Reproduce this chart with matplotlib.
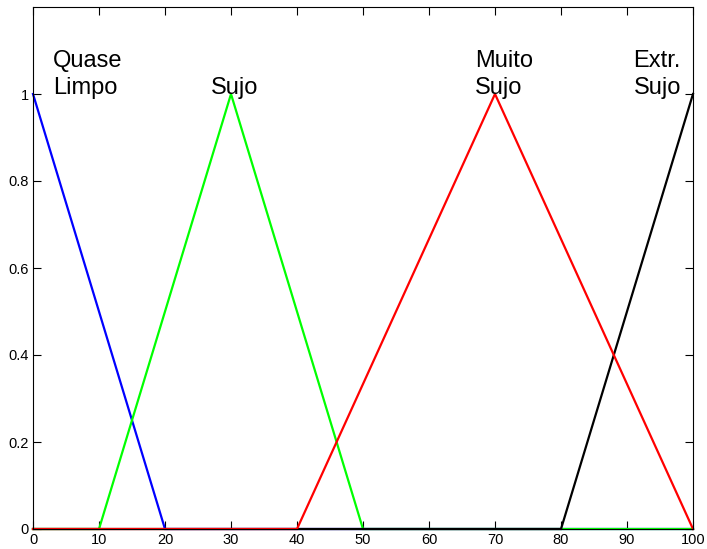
import numpy as np
import matplotlib
matplotlib.use("Agg")
import matplotlib.pyplot as plt

plt.rcParams['font.family'] = ['Liberation Sans', 'DejaVu Sans']

x_points = [0, 10, 20, 30, 40, 50, 70, 80, 100]
quase_limpo = [1, 0.5, 0, 0, 0, 0, 0, 0, 0]
sujo = [0, 0, 0.5, 1, 0.5, 0, 0, 0, 0]
muito_sujo = [0, 0, 0, 0, 0, 1/3, 1, 2/3, 0]
extr_sujo = [0, 0, 0, 0, 0, 0, 0, 0, 1]

labels = ["Quase\nLimpo", "Sujo", "Muito\nSujo", "Extr.\nSujo"]
label_x = [3, 27, 67, 91]
label_y = [1.0, 1.0, 1.0, 1.0]
colors = ["#0000ff", "#00ff00", "#ff0000", "#000000"]

xticks = [0, 10, 20, 30, 40, 50, 60, 70, 80, 90, 100]
yticks = [0, 0.2, 0.4, 0.6, 0.8, 1]
ytick_labels = ["0", "0.2", "0.4", "0.6", "0.8", "1"]

fig = plt.figure(figsize=(7.07, 5.49), dpi=100)
ax = fig.add_axes([33/707, 1 - 529/549, 660/707, 522/549])

series = [quase_limpo, sujo, extr_sujo, muito_sujo]
cols = [colors[0], colors[1], colors[3], colors[2]]
for s, c in zip(series, cols):
    ax.plot(x_points, s, color=c, lw=1.6, clip_on=False, solid_joinstyle='miter')

for t, xx, yy in zip(labels, label_x, label_y):
    ax.text(xx, yy, t, fontsize=17, va='baseline', ha='left', linespacing=1.28)

ax.set_xlim(0, 100)
ax.set_ylim(0, 1.2)
ax.set_xticks(xticks)
ax.set_xticklabels([str(v) for v in xticks])
ax.set_yticks(yticks)
ax.set_yticklabels(ytick_labels)
ax.tick_params(direction='in', length=6, width=0.8, top=True, right=True,
               labelsize=10.5, pad=3)
for sp in ax.spines.values():
    sp.set_linewidth(0.8)

fig.savefig("out.png", dpi=100)
